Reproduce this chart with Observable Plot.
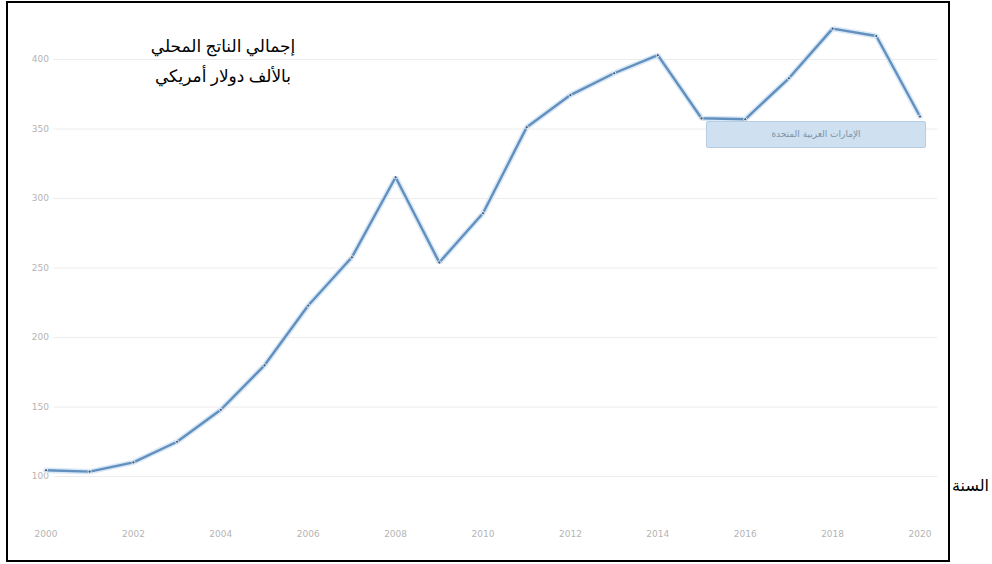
<!DOCTYPE html>
<html lang="ar">
<head>
<meta charset="utf-8">
<script src="https://cdn.jsdelivr.net/npm/d3@7"></script>
<script src="https://cdn.jsdelivr.net/npm/@observablehq/plot@0.6"></script>
<style>
  html, body { margin: 0; padding: 0; background: #fff; width: 992px; height: 564px; overflow: hidden; }
  #frame { position: absolute; left: 6px; top: 1px; width: 940px; height: 557px; border: 2px solid #000; background: #fff; }
  #chart { position: absolute; left: 0; top: 0; }
  #title { position: absolute; left: 100px; top: 29px; width: 230px; text-align: center; direction: rtl;
           font-family: "Times New Roman", "Liberation Serif", "DejaVu Sans", serif; font-size: 17px; line-height: 30px; color: #000; }
  #tipbox { position: absolute; left: 698px; top: 118px; width: 218px; height: 25px; background: #cfe0f0;
            border: 1px solid #b6cde3; border-radius: 2px; text-align: center; direction: rtl;
            font-family: "DejaVu Sans", sans-serif; font-size: 9px; line-height: 25px; color: #7d92a8; }
  #xlabel { position: absolute; left: 952px; top: 476px; direction: rtl;
            font-family: "Times New Roman", "Liberation Serif", "DejaVu Sans", serif; font-size: 16px; color: #000; }
</style>
</head>
<body>
<div id="frame">
  <div id="chart"></div>
  <div id="title">إجمالي الناتج المحلي<br>بالألف دولار أمريكي</div>
  <div id="tipbox">الإمارات العربية المتحدة</div>
</div>
<div id="xlabel">السنة</div>
<script>
const years = [2000, 2001, 2002, 2003, 2004, 2005, 2006, 2007, 2008, 2009, 2010,
               2011, 2012, 2013, 2014, 2015, 2016, 2017, 2018, 2019, 2020];
const gdp = [104.5, 103.5, 110.2, 125.0, 148.0, 180.0, 223.0, 257.7, 315.3, 254.0, 289.4,
             351.3, 374.4, 390.1, 403.1, 357.7, 357.0, 386.5, 422.2, 416.9, 359.0];
const xTicks = [2000, 2002, 2004, 2006, 2008, 2010, 2012, 2014, 2016, 2018, 2020];
const yTicks = [100, 150, 200, 250, 300, 350, 400];

const data = years.map((year, i) => ({year, gdp: gdp[i]}));

const chart = Plot.plot({
  width: 940,
  height: 557,
  marginLeft: 37.5,
  marginRight: 28.5,
  marginTop: 56,
  marginBottom: 84,
  style: {background: "transparent", fontFamily: "DejaVu Sans, sans-serif"},
  x: {type: "linear", domain: [2000, 2020]},
  y: {type: "linear", domain: [100, 400]},
  marks: [
    Plot.gridY(yTicks, {stroke: "#ececec", strokeOpacity: 1, insetLeft: 8, insetRight: -18}),
    Plot.axisY(yTicks, {tickSize: 0, tickPadding: 0, dx: 3, fontSize: 9, fill: "#b4b4b4", label: null}),
    Plot.axisX(xTicks, {tickSize: 0, tickPadding: 54, fontSize: 9, fill: "#b4b4b4", label: null, tickFormat: d3.format("d")}),
    Plot.line(data, {x: "year", y: "gdp", stroke: "#d9e8f6", strokeWidth: 5.5, strokeLinejoin: "miter"}),
    Plot.line(data, {x: "year", y: "gdp", stroke: "#6290be", strokeWidth: 2.4, strokeLinejoin: "miter"}),
    Plot.dot(data, {x: "year", y: "gdp", r: 1.6, fill: "#3e5f82", stroke: "#ffffff", strokeWidth: 0.8})
  ]
});
document.getElementById("chart").appendChild(chart);
</script>
</body>
</html>
